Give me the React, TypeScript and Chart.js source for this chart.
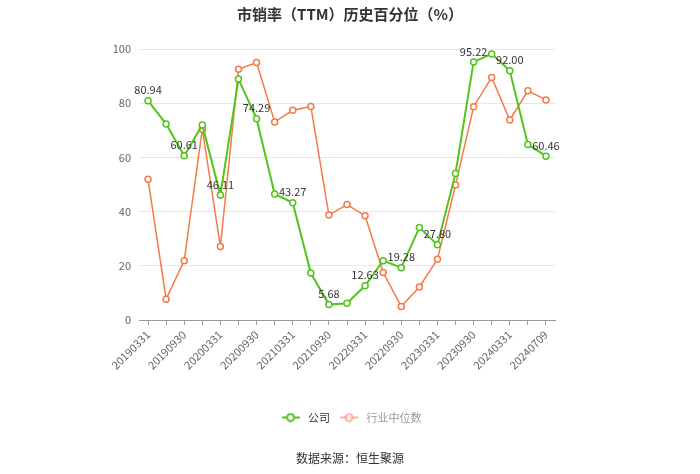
import React, { useEffect, useRef } from "react";
import { Chart, registerables } from "chart.js";

Chart.register(...registerables);

const categories = [
  "20190331", "20190630", "20190930", "20191231",
  "20200331", "20200630", "20200930", "20201231",
  "20210331", "20210630", "20210930", "20211231",
  "20220331", "20220630", "20220930", "20221231",
  "20230331", "20230630", "20230930", "20231231",
  "20240331", "20240630", "20240709",
];

const companyValues = [
  80.94, 72.3, 60.61, 72.0, 46.11, 88.9, 74.29, 46.5, 43.27, 17.3, 5.68, 6.2,
  12.63, 21.9, 19.28, 34.1, 27.8, 54.1, 95.22, 98.2, 92.0, 64.8, 60.46,
];

const industryValues = [
  51.9, 7.7, 21.9, 70.4, 27.1, 92.5, 95.0, 73.1, 77.4, 78.8, 38.7, 42.6, 38.5,
  17.5, 5.0, 12.2, 22.4, 49.8, 78.7, 89.5, 73.8, 84.6, 81.2,
];

const labeledIndices = [0, 2, 4, 6, 8, 10, 12, 14, 16, 18, 20, 22];

const yTicks = [0, 20, 40, 60, 80, 100];

const GREEN = "#52c41a";
const ORANGE = "#f5794a";
const FONT = "'Noto Sans CJK SC', 'Noto Sans', sans-serif";

function makeLegendIcon(color: string, alpha: number) {
  const c = document.createElement("canvas");
  c.width = 18;
  c.height = 10;
  const g = c.getContext("2d")!;
  g.globalAlpha = alpha;
  g.strokeStyle = color;
  g.lineWidth = 2;
  g.beginPath();
  g.moveTo(0, 5);
  g.lineTo(18, 5);
  g.stroke();
  g.fillStyle = "#fff";
  g.beginPath();
  g.arc(9, 5, 3.5, 0, Math.PI * 2);
  g.fill();
  g.stroke();
  return c;
}

export default function App() {
  const ref = useRef<HTMLCanvasElement | null>(null);

  useEffect(() => {
    document.body.style.margin = "0";
    const canvas = ref.current!;
    const iconGreen = makeLegendIcon(GREEN, 1);
    const iconOrange = makeLegendIcon(ORANGE, 0.55);

    const valueLabels = {
      id: "valueLabels",
      afterDatasetsDraw(chart: any) {
        const ctx = chart.ctx;
        const meta = chart.getDatasetMeta(0);
        ctx.save();
        ctx.font = `11px ${FONT}`;
        ctx.fillStyle = "#333";
        ctx.textAlign = "center";
        ctx.textBaseline = "bottom";
        labeledIndices.forEach((i) => {
          const p = meta.data[i];
          ctx.fillText(companyValues[i].toFixed(2), p.x, p.y - 5);
        });
        ctx.restore();
      },
    };

    const sourceText = {
      id: "sourceText",
      afterDraw(chart: any) {
        const ctx = chart.ctx;
        ctx.save();
        ctx.font = `12px ${FONT}`;
        ctx.fillStyle = "#333";
        ctx.textAlign = "center";
        ctx.textBaseline = "middle";
        ctx.fillText("数据来源：恒生聚源", chart.width / 2, chart.height - 16);
        ctx.restore();
      },
    };

    const chart = new Chart(canvas, {
      type: "line",
      data: {
        labels: categories,
        datasets: [
          {
            label: "公司",
            data: companyValues,
            borderColor: GREEN,
            backgroundColor: "#fff",
            borderWidth: 2,
            pointRadius: 3,
            pointBorderWidth: 1.5,
            pointBackgroundColor: "#fff",
            pointBorderColor: GREEN,
            tension: 0,
          },
          {
            label: "行业中位数",
            data: industryValues,
            borderColor: ORANGE,
            backgroundColor: "#fff",
            borderWidth: 1.5,
            pointRadius: 3,
            pointBorderWidth: 1.5,
            pointBackgroundColor: "#fff",
            pointBorderColor: ORANGE,
            tension: 0,
          },
        ],
      },
      options: {
        animation: false,
        responsive: false,
        layout: { padding: { left: 0, right: 0, top: 0, bottom: 41 } },
        plugins: {
          title: {
            display: true,
            text: "市销率（TTM）历史百分位（%）",
            color: "#333",
            font: { size: 15, weight: "bold", family: FONT },
            padding: { top: 5, bottom: 26 },
          },
          legend: {
            position: "bottom",
            labels: {
              usePointStyle: true,
              pointStyleWidth: 24,
              font: { size: 11, family: FONT },
              color: "#333",
              padding: 7,
              generateLabels: () => [
                {
                  text: "公司",
                  pointStyle: iconGreen,
                  fontColor: "#333",
                  datasetIndex: 0,
                  hidden: false,
                  lineWidth: 0,
                },
                {
                  text: "行业中位数",
                  pointStyle: iconOrange,
                  fontColor: "#999",
                  datasetIndex: 1,
                  hidden: false,
                  lineWidth: 0,
                },
              ] as any,
            },
          },
          tooltip: { enabled: false },
        },
        scales: {
          x: {
            offset: true,
            grid: {
              display: true,
              offset: false,
              drawOnChartArea: false,
              drawTicks: true,
              tickLength: 5,
              color: "#999",
            },
            border: { display: true, color: "#999" },
            ticks: {
              autoSkip: false,
              maxRotation: 45,
              minRotation: 45,
              color: "#666",
              font: { size: 11, family: FONT },
              callback: (_v: any, i: number) => (i % 2 === 0 ? categories[i] : ""),
            },
            afterFit: (s: any) => {
              s.height = 85;
            },
          },
          y: {
            min: 0,
            max: 100,
            afterBuildTicks: (s: any) => {
              s.ticks = yTicks.map((v) => ({ value: v }));
            },
            grid: { color: "#e8e8e8", drawTicks: false },
            border: { display: false },
            ticks: {
              color: "#666",
              font: { size: 11, family: FONT },
              padding: 8,
            },
            afterFit: (s: any) => {
              s.width = 139;
            },
          },
          yRight: {
            position: "right",
            display: true,
            min: 0,
            max: 100,
            grid: { display: false, drawTicks: false },
            border: { display: false },
            ticks: { display: false },
            afterFit: (s: any) => {
              s.width = 145;
            },
          },
        },
      },
      plugins: [valueLabels, sourceText],
    });

    return () => chart.destroy();
  }, []);

  return <canvas ref={ref} width={700} height={474} style={{ display: "block" }} />;
}
